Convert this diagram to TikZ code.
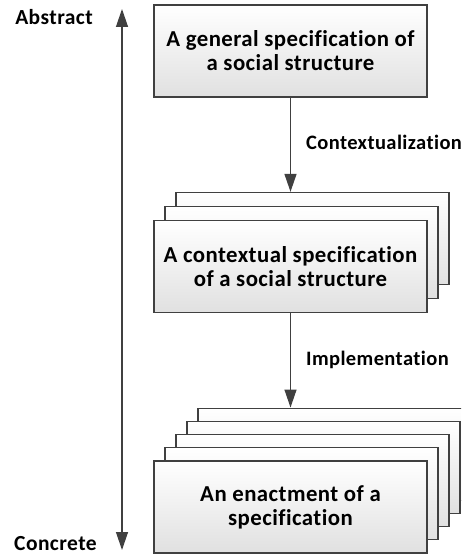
\documentclass[tikz,border=0pt]{standalone}
\usepackage{fontspec}
\setmainfont{Carlito}[LetterSpace=2,Ligatures=NoCommon]
\usetikzlibrary{arrows.meta}
\definecolor{edge}{HTML}{404040}
\tikzset{card/.style={draw=edge,line width=1.3pt,top color=white,bottom color=black!12,
 minimum width=273pt,minimum height=92pt,inner sep=0pt,align=center,
 font=\fontsize{22.8}{24}\selectfont\bfseries},
 lbl/.style={font=\fontsize{20.5}{24}\selectfont\bfseries,inner sep=0pt},
 axlbl/.style={font=\fontsize{21.5}{26}\selectfont\bfseries,inner sep=0pt},
 link/.style={draw=edge,line width=1.3pt,-{Triangle[length=18pt,width=12pt]}}}
\begin{document}
\begin{tikzpicture}[x=1pt,y=-1pt]
\useasboundingbox (0,0) rectangle (461,556);
\clip (0,0) rectangle (461,556);
% level axis
\coordinate (axtop) at (122,9);
\coordinate (axbot) at (122,550);
\draw[link,{Triangle[length=18pt,width=12pt]}-{Triangle[length=18pt,width=12pt]}] (axtop) -- (axbot);
\node[axlbl,anchor=east] (abs) at (93,17) {Abstract};
\node[axlbl,anchor=east] (conc) at (97,544) {Concrete};
% general specification
\node[card] (gen) at (290.5,51) {A general specification of\\a social structure};
% contextual specifications
\foreach \i in {2,1}
 {\node[card] (ctx\i) at (290.5+11*\i,266.5-14*\i) {};}
\node[card] (ctx) at (290.5,266.5) {A contextual specification\\of a social structure};
% enactments
\foreach \i in {4,...,1}
 {\node[card] (enc\i) at (290.5+11*\i,507-13.2*\i) {};}
\node[card] (enc) at (290.5,507) {An enactment of a\\specification};
% connectors
\draw[link] (gen.south) -- (gen.south |- ctx2.north)
 node[lbl,pos=0.5,anchor=west,xshift=15pt,yshift=2pt] (ctxlbl) {Contextualization};
\draw[link] (ctx.south) -- (ctx.south |- enc4.north)
 node[lbl,pos=0.5,anchor=west,xshift=15pt] (implbl) {Implementation};
\end{tikzpicture}
\end{document}
